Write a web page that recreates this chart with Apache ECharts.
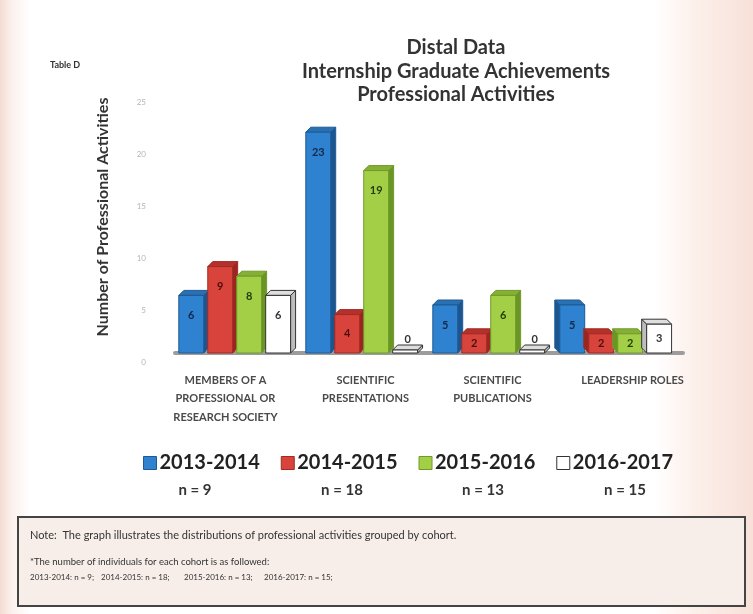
<!DOCTYPE html>
<html>
<head>
<meta charset="utf-8">
<script src="https://cdn.jsdelivr.net/npm/echarts@6/dist/echarts.min.js"></script>
<style>
html,body{margin:0;padding:0;background:#fff;}
#chart{width:753px;height:614px;}
</style>
</head>
<body>
<div id="chart"></div>
<script>
const categories = ['MEMBERS OF A\nPROFESSIONAL OR\nRESEARCH SOCIETY', 'SCIENTIFIC\nPRESENTATIONS', 'SCIENTIFIC\nPUBLICATIONS', 'LEADERSHIP ROLES'];
const cohorts = ['2013-2014', '2014-2015', '2015-2016', '2016-2017'];
const cohortN = [9, 18, 13, 15];
const values2013 = [6, 23, 5, 5];
const values2014 = [9, 4, 2, 2];
const values2015 = [8, 19, 6, 2];
const values2016 = [6, 0, 0, 3];
const yTicks = [0, 5, 10, 15, 20, 25];

const seriesValues = [values2013, values2014, values2015, values2016];
const palette = [
  {front: '#2e82cf', side: '#1b5690', top: '#2a70b2', stroke: '#1d5a94', label: '#14284a'},
  {front: '#d8433b', side: '#9b2520', top: '#b5302a', stroke: '#a02a24', label: '#4a0f0c'},
  {front: '#a3cf47', side: '#6b9626', top: '#86b035', stroke: '#6f9a2a', label: '#263d0b'},
  {front: '#ffffff', side: '#bdbdbd', top: '#dedede', stroke: '#333333', label: '#333333'}
];
const FONT = 'Lato, "Open Sans", sans-serif';

function makeRender(s) {
  const col = palette[s];
  return function (params, api) {
    const cat = api.value(0), v = api.value(1);
    const c = api.coord([cat, v]);
    const b = api.coord([cat, 0]);
    const band = api.size([1, 0])[0];
    const pitch = band * 0.228;
    const w = pitch * 0.86;
    const x0 = b[0] - band * 0.47 + s * pitch;
    const base = b[1];
    let top = c[1];
    if (v === 0) top = base - 3;
    const dy = 5;
    const dx = (x0 + w / 2 < 555) ? 5 : -5;
    const children = [];
    const sx = dx > 0 ? x0 + w : x0;
    children.push({
      type: 'polygon',
      shape: {points: [[sx, top], [sx + dx, top - dy], [sx + dx, base - dy], [sx, base]]},
      style: {fill: col.side, stroke: col.stroke, lineWidth: 1}
    });
    children.push({
      type: 'polygon',
      shape: {points: [[x0, top], [x0 + dx, top - dy], [x0 + w + dx, top - dy], [x0 + w, top]]},
      style: {fill: col.top, stroke: col.stroke, lineWidth: 1}
    });
    children.push({
      type: 'rect',
      shape: {x: x0, y: top, width: w, height: base - top},
      style: {fill: col.front, stroke: col.stroke, lineWidth: 1}
    });
    const ly = v === 0 ? top - 11 : Math.min(top + 20, (top + base) / 2);
    children.push({
      type: 'text',
      style: {
        text: String(v), x: x0 + w / 2 + (v === 0 ? dx / 2 : 0), y: ly,
        align: 'center', verticalAlign: 'middle',
        fill: col.label, font: 'bold 11px ' + FONT
      }
    });
    return {type: 'group', children: children};
  };
}

const series = seriesValues.map((vals, s) => ({
  type: 'custom',
  name: cohorts[s],
  xAxisIndex: 0,
  yAxisIndex: 0,
  renderItem: makeRender(s),
  itemStyle: {color: palette[s].front, borderColor: palette[s].stroke, borderWidth: 1},
  encode: {x: 0, y: 1},
  data: vals.map((v, i) => [i, v])
}));

const nLabelX = [195, 342, 483, 625];
const noteYearX = [30, 101, 184, 264];
const graphics = [
  {type: 'text', left: 50, top: 61, style: {text: 'Table D', font: 'bold 9px ' + FONT, fill: '#333'}},
  {type: 'text', x: 103, y: 217, rotation: Math.PI / 2,
   style: {text: 'Number of Professional Activities', font: 'bold 16px ' + FONT, fill: '#333', align: 'center', verticalAlign: 'middle'}},
  {type: 'rect', shape: {x: 18, y: 517, width: 727, height: 89},
   style: {fill: '#f7eeea', stroke: '#444', lineWidth: 2}},
  {type: 'text', x: 30, y: 535, style: {text: 'Note:  The graph illustrates the distributions of professional activities grouped by cohort.', font: '11px ' + FONT, fill: '#333', verticalAlign: 'middle'}},
  {type: 'text', x: 30, y: 562, style: {text: '*The number of individuals for each cohort is as followed:', font: '9.5px ' + FONT, fill: '#333', verticalAlign: 'middle'}}
];
cohorts.forEach((c, i) => {
  graphics.push({type: 'text', x: noteYearX[i], y: 577,
    style: {text: c + ': n = ' + cohortN[i] + ';', font: '8px ' + FONT, fill: '#333', verticalAlign: 'middle'}});
});
cohortN.forEach((n, i) => {
  graphics.push({type: 'text', x: nLabelX[i], y: 490,
    style: {text: 'n = ' + n, font: 'bold 15px ' + FONT, fill: '#333', align: 'center', verticalAlign: 'middle'}});
});

const catLabelBase = {fontSize: 11, fontWeight: 'bold', color: '#4a4a4a', lineHeight: 18.5, fontFamily: FONT};

const option = {
  backgroundColor: {
    type: 'linear', x: 0, y: 0, x2: 1, y2: 0,
    colorStops: [
      {offset: 0, color: '#f3dcd3'}, {offset: 0.015, color: '#fbf0ec'},
      {offset: 0.04, color: '#ffffff'}, {offset: 0.87, color: '#ffffff'},
      {offset: 0.92, color: '#fcf0eb'}, {offset: 1, color: '#f7e1d9'}
    ]
  },
  animation: false,
  textStyle: {fontFamily: FONT},
  title: {
    text: 'Distal Data\nInternship Graduate Achievements\nProfessional Activities',
    left: 451, top: 31, textAlign: 'center',
    textStyle: {fontSize: 20, fontWeight: 'bold', color: '#333', lineHeight: 23.5, fontFamily: FONT}
  },
  legend: {
    data: cohorts.map((c, i) => ({name: c, icon: 'rect',
      itemStyle: {color: palette[i].front, borderColor: palette[i].stroke, borderWidth: 1}})),
    left: 138, top: 448, itemWidth: 13, itemHeight: 13, itemGap: 21,
    textStyle: {fontSize: 20, fontWeight: 'bold', color: '#222', fontFamily: FONT, padding: [0, 0, 0, -2]}
  },
  grid: [
    {left: 175, right: 70, top: 113, bottom: 261},
    {left: 175, right: 70, top: 102, bottom: 252}
  ],
  xAxis: [
    {type: 'category', gridIndex: 0, data: categories, offset: 5,
     axisLine: {lineStyle: {color: '#9c9c9c', width: 4}},
     axisTick: {show: false},
     axisLabel: {interval: 0, margin: 13, fontFamily: FONT,
       formatter: (val, idx) => {
         const k = idx === 0 ? 'l' : (idx === categories.length - 1 ? 'r' : 'c');
         return val.split('\n').map(line => '{' + k + '|' + line + '}').join('\n');
       },
       rich: {
         c: catLabelBase,
         l: Object.assign({}, catLabelBase, {padding: [0, 26, 0, 0]}),
         r: Object.assign({}, catLabelBase, {padding: [0, 0, 0, 26]})
       }}},
    {type: 'category', gridIndex: 1, data: categories, show: false}
  ],
  yAxis: [
    {type: 'value', gridIndex: 0, min: 0, max: 25, interval: 5, show: false},
    {type: 'value', gridIndex: 1, min: 0, max: 25, interval: 5,
     axisLine: {show: false}, axisTick: {show: false}, splitLine: {show: false},
     axisLabel: {margin: 29, fontSize: 8, color: '#b5b5b5', fontFamily: FONT,
       formatter: (v) => yTicks.indexOf(v) >= 0 ? String(v) : ''}}
  ],
  series: series,
  graphic: graphics
};

const chart = echarts.init(document.getElementById('chart'), null, {renderer: 'canvas'});
chart.setOption(option);
</script>
</body>
</html>
